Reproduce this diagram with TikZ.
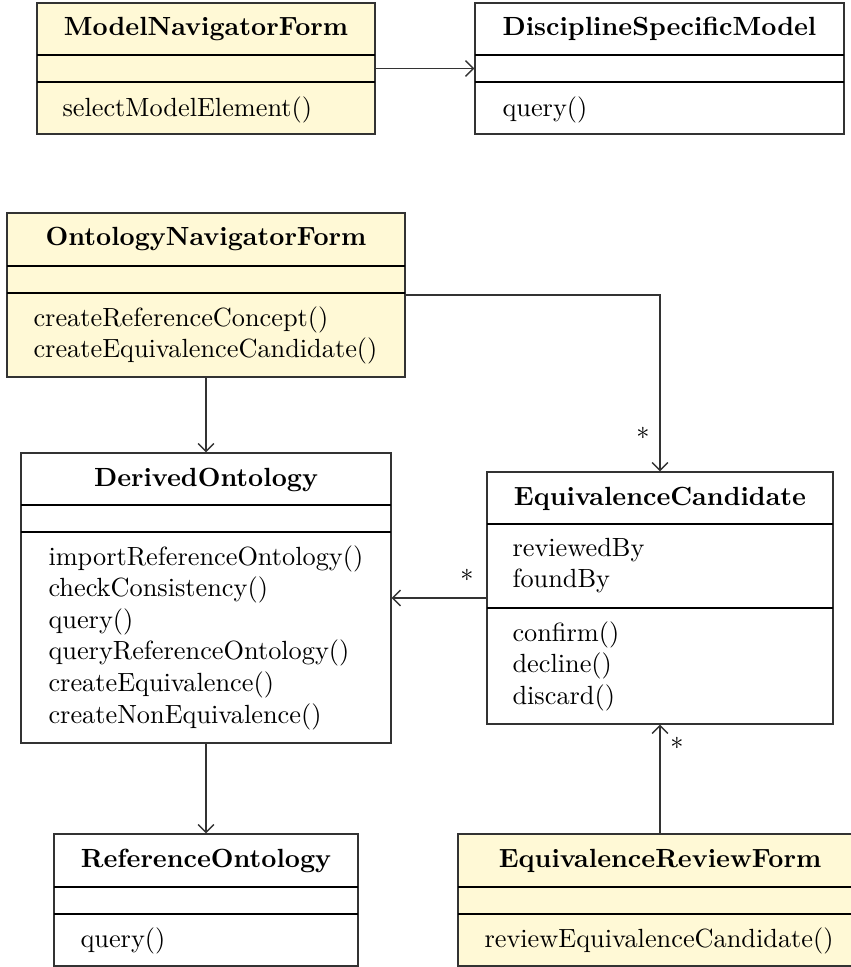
\documentclass[tikz,border=0pt]{standalone}
\usetikzlibrary{fit,arrows.meta}
\definecolor{formfill}{RGB}{255,249,214}
\tikzset{
  umlbox/.style={draw=black!80, line width=0.5pt, inner sep=0pt},
  formbox/.style={umlbox, fill=formfill},
  plainbox/.style={umlbox, fill=white},
  compsep/.style={draw=black, line width=0.5pt},
  ctitle/.style={font=\bfseries, anchor=base, inner sep=0pt},
  % placed at the baseline of the first line; the leading strut fixes the top
  members/.style={align=left, anchor=north west, inner sep=0pt, yshift=8.5pt},
  assoc/.style={draw=black!80, line width=0.5pt, -{Straight Barb[length=3pt,width=6pt]}},
  mult/.style={inner sep=0pt}
}
\begin{document}
\begin{tikzpicture}[x=0.3802pt,y=-0.3802pt]
\useasboundingbox (0,0) rectangle (851,967);

% ModelNavigatorForm
\node[formbox, fit={(37,3) (375,134)}] (mnf) {};
\draw[compsep] (37,55) -- (375,55) (37,82) -- (375,82);
\node[ctitle] (mnft) at (206,36) {ModelNavigatorForm};
\node[members] (mnfm) at (62,116) {\strut selectModelElement()};

% DisciplineSpecificModel
\node[plainbox, fit={(475,3) (844,134)}] (dsm) {};
\draw[compsep] (475,55) -- (844,55) (475,82) -- (844,82);
\node[ctitle] (dsmt) at (659.5,36) {DisciplineSpecificModel};
\node[members] (dsmm) at (502,116) {\strut query()};

% OntologyNavigatorForm
\node[formbox, fit={(7,213) (405,377)}] (onf) {};
\draw[compsep] (7,266) -- (405,266) (7,293) -- (405,293);
\node[ctitle] (onft) at (206,246) {OntologyNavigatorForm};
\node[members] (onfm) at (33,326) {\strut createReferenceConcept()\\createEquivalenceCandidate()};

% DerivedOntology
\node[plainbox, fit={(21,453) (391,743)}] (do) {};
\draw[compsep] (21,505) -- (391,505) (21,532) -- (391,532);
\node[ctitle] (dot) at (206,486) {DerivedOntology};
\node[members] (dom) at (48,565) {\strut importReferenceOntology()\\checkConsistency()\\query()\\queryReferenceOntology()\\createEquivalence()\\createNonEquivalence()};

% EquivalenceCandidate
\node[plainbox, fit={(487,472) (833,724)}] (ec) {};
\draw[compsep] (487,524) -- (833,524) (487,608) -- (833,608);
\node[ctitle] (ect) at (660,505) {EquivalenceCandidate};
\node[members] (eca) at (512,556) {\strut reviewedBy\\foundBy};
\node[members] (ecm) at (512,641) {\strut confirm()\\decline()\\discard()};

% ReferenceOntology
\node[plainbox, fit={(54,834) (358,966)}] (ro) {};
\draw[compsep] (54,887) -- (358,887) (54,914) -- (358,914);
\node[ctitle] (rot) at (206,867) {ReferenceOntology};
\node[members] (rom) at (80,947) {\strut query()};

% EquivalenceReviewForm
\node[formbox, fit={(458,834) (862,966)}] (erf) {};
\draw[compsep] (458,887) -- (862,887) (458,914) -- (862,914);
\node[ctitle] (erft) at (660,867) {EquivalenceReviewForm};
\node[members] (erfm) at (484,947) {\strut reviewEquivalenceCandidate()};

% associations
\draw[assoc] (mnf.east) -- (dsm.west);
\draw[assoc] (onf.south) -- (do.north);
\draw[assoc] (onf.east) -| (ec.north);
\draw[assoc] (ec.west) -- (do.east);
\draw[assoc] (do.south) -- (ro.north);
\draw[assoc] (erf.north -| ec.south) -- (ec.south);

% multiplicities
\node[mult] (m1) at (643,433) {$*$};
\node[mult] (m2) at (467,575) {$*$};
\node[mult] (m3) at (677,743) {$*$};
\end{tikzpicture}
\end{document}
